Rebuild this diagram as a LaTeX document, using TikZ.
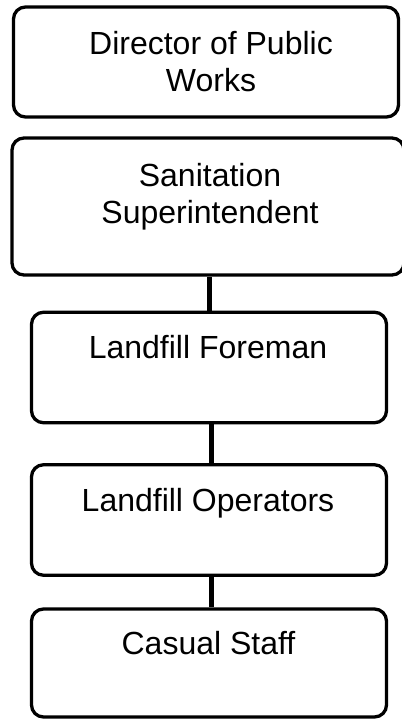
\documentclass[tikz,border=0pt]{standalone}
\usepackage{fontspec}
\setmainfont{Liberation Sans}
\usepackage{tikz}

\tikzset{
    box/.style={draw, line width=3.3pt, rounded corners=12pt, inner sep=0pt},
    title/.style={font=\fontsize{32}{37}\selectfont, align=center, inner sep=0pt, anchor=north},
    link/.style={line width=5pt}
}

\begin{document}
\begin{tikzpicture}[x=1pt,y=-1pt]
        \useasboundingbox (0,0) rectangle (401,719);

        \node[box, minimum width=385pt, minimum height=110pt] (dir) at (206,62) {};
        \node[box, minimum width=392pt, minimum height=137pt] (san) at (208,206.5) {};
        \node[box, minimum width=355pt, minimum height=110.5pt] (fore) at (209,367.5) {};
        \node[box, minimum width=355pt, minimum height=110.5pt] (ops) at (209,520) {};
        \node[box, minimum width=355pt, minimum height=108pt] (cas) at (209,663) {};

        \node[title] (dirtxt) at (211,31.6) {Director of Public\\Works};
        \node[title] (santxt) at (210,163.6) {Sanitation\\Superintendent};
        \node[title] (foretxt) at (208,335.6) {Landfill Foreman};
        \node[title] (opstxt) at (208,488.3) {Landfill Operators};
        \node[title] (castxt) at (208.5,631.6) {Casual Staff};

        \draw[link] (fore.north) -- (fore.north |- san.south);
        \draw[link] ([xshift=2pt]ops.north) -- ([xshift=2pt]ops.north |- fore.south);
        \draw[link] ([xshift=2pt]cas.north) -- ([xshift=2pt]cas.north |- ops.south);
\end{tikzpicture}
\end{document}
